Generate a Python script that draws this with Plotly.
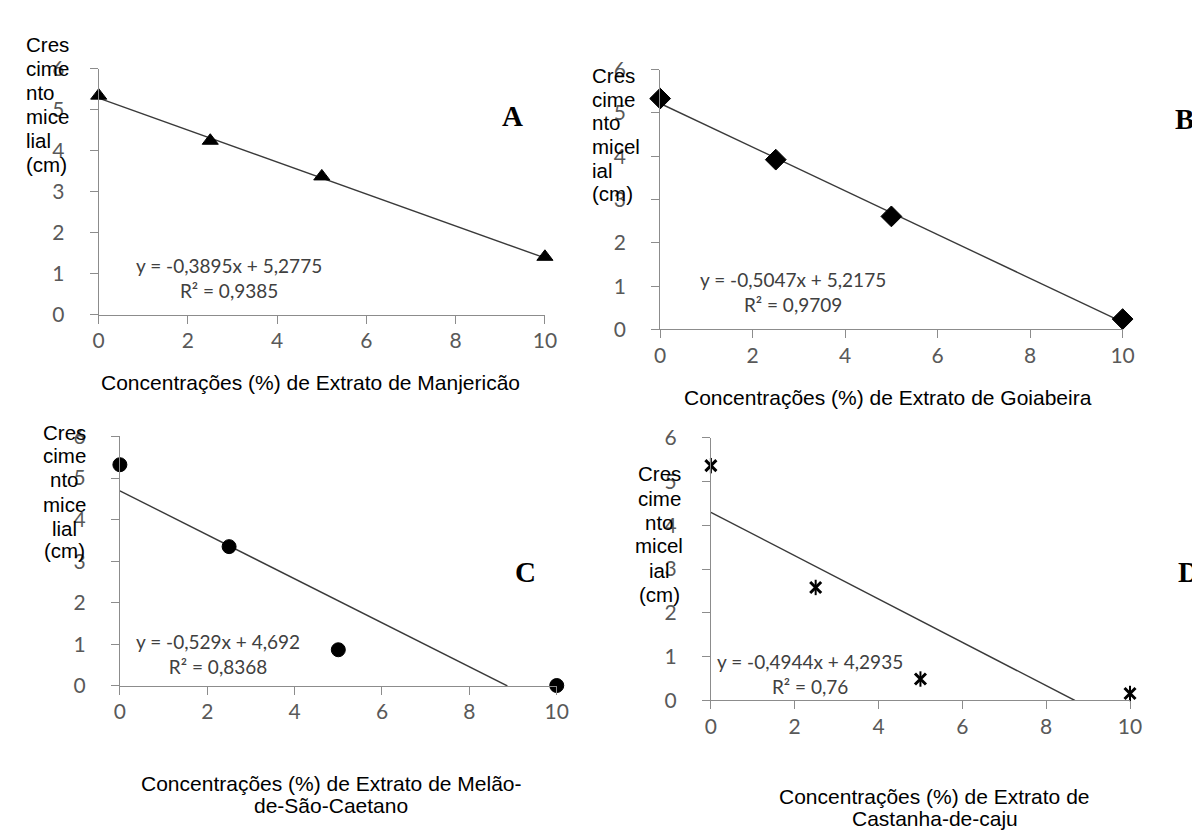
import plotly.graph_objects as go

# ---------------- data ----------------
conc = [0, 2.5, 5, 10]
manjericao = [5.34, 4.24, 3.37, 1.41]
goiabeira = [5.33, 3.92, 2.61, 0.24]
melao = [5.32, 3.35, 0.87, 0.01]
caju = [5.36, 2.58, 0.49, 0.16]

slopes = [-0.3895, -0.5047, -0.529, -0.4944]
intercepts = [5.2775, 5.2175, 4.692, 4.2935]
r2_labels = ["0,9385", "0,9709", "0,8368", "0,76"]
eq_labels = ["y = -0,3895x + 5,2775", "y = -0,5047x + 5,2175",
             "y = -0,529x + 4,692", "y = -0,4944x + 4,2935"]
x_titles = [["Concentrações (%) de Extrato de Manjericão"],
            ["Concentrações (%) de Extrato de Goiabeira"],
            ["Concentrações (%) de Extrato de Melão-", "de-São-Caetano"],
            ["Concentrações (%) de Extrato de", "Castanha-de-caju"]]
y_titles = [["Cres", "cime", "nto", "mice", "lial", "(cm)"],
            ["Cres", "cime", "nto", "micel", "ial", "(cm)"],
            ["Cres", "cime", "nto", "mice", "lial", "(cm)"],
            ["Cres", "cime", "nto", "micel", "ial", "(cm)"]]
letters = ["A", "B", "C", "D"]
x_ticks = [0, 2, 4, 6, 8, 10]
y_ticks = [0, 1, 2, 3, 4, 5, 6]
series = [manjericao, goiabeira, melao, caju]

# ---------------- layout (pixels) ----------------
W, H = 1200, 832
def fx(px): return px / W
def fy(py): return 1 - py / H

# (left, right, top, bottom) of each plot area in px
boxes = [(86, 539, 48, 301.7), (656, 1125.5, 49, 317),
         (107.5, 551, 427.3, 684.5), (707.5, 1133, 428.5, 699.5)]
symbols = ["triangle-up", "diamond", "circle", "x-thin-open"]
msizes = [14, 16, 14, 11]

AXC = "#8c8c8c"
TICKC = "#595959"
TICKFONT = dict(family="Lato", size=21, color=TICKC)

fig = go.Figure()
layout = {}
for i in range(4):
    sfx = "" if i == 0 else str(i + 1)
    xa, ya = "x" + sfx, "y" + sfx
    l, r, t, b = boxes[i]
    layout["xaxis" + sfx] = dict(
        domain=[fx(l), fx(r)], anchor=ya, range=[0, 10], tickvals=x_ticks,
        showline=True, linecolor=AXC, linewidth=1, ticks="outside", ticklen=8,
        tickcolor=AXC, showgrid=False, zeroline=False, tickfont=TICKFONT,
        ticklabelstandoff=-1)
    layout["yaxis" + sfx] = dict(
        domain=[fy(b), fy(t)], anchor=xa, range=[0, 6], tickvals=y_ticks,
        showline=True, linecolor=AXC, linewidth=1, ticks="outside", ticklen=8,
        tickcolor=AXC, showgrid=False, zeroline=False, tickfont=TICKFONT,
        ticklabelstandoff=21)

    # trend line from the fitted coefficients, clipped at y = 0
    m, c = slopes[i], intercepts[i]
    x_end = min(10, -c / m)
    fig.add_trace(go.Scatter(x=[0, x_end], y=[c, c + m * x_end], mode="lines",
                             line=dict(color="#3a3a3a", width=1.4),
                             xaxis=xa, yaxis=ya, showlegend=False,
                             cliponaxis=False))
    if symbols[i] == "x-thin-open":
        fig.add_trace(go.Scatter(x=conc, y=series[i], mode="markers",
                                 marker=dict(symbol="x-thin-open", size=msizes[i],
                                             color="black",
                                             line=dict(color="black", width=3)),
                                 xaxis=xa, yaxis=ya, showlegend=False, cliponaxis=False))
        fig.add_trace(go.Scatter(x=conc, y=series[i], mode="markers",
                                 marker=dict(symbol="line-ns-open", size=msizes[i],
                                             color="black",
                                             line=dict(color="black", width=2)),
                                 xaxis=xa, yaxis=ya, showlegend=False, cliponaxis=False))
    else:
        fig.add_trace(go.Scatter(x=conc, y=series[i], mode="markers",
                                 marker=dict(symbol=symbols[i], size=msizes[i],
                                             color="black",
                                             line=dict(color="black", width=1)),
                                 xaxis=xa, yaxis=ya, showlegend=False, cliponaxis=False))

# ---------------- annotations ----------------
ann = []
EQFONT = dict(family="Lato", size=19, color="#404040")
eq_pos = [(218, 264), (791, 278), (207, 652), (808, 672)]
for i in range(4):
    ann.append(dict(x=fx(eq_pos[i][0]), y=fy(eq_pos[i][1]), xref="paper", yref="paper",
                    text=eq_labels[i] + "<br>R² = " + r2_labels[i], showarrow=False,
                    align="center", xanchor="center", yanchor="middle", font=EQFONT))

XTFONT = dict(family="Liberation Sans, Arial", size=21, color="black")
xt_x = [301, 887, 322, 935]
xt_y = [[372], [387], [785, 808], [798, 821]]
for i in range(4):
    for line, yp in zip(x_titles[i], xt_y[i]):
        ann.append(dict(x=fx(xt_x[i]), y=fy(yp), xref="paper", yref="paper",
                        text=line, showarrow=False, xanchor="center",
                        yanchor="middle", font=XTFONT))

YTFONT = dict(family="Liberation Sans, Arial", size=20.5, color="black")
yt_x = [(10, "left"), (585, "left"), (51, "center"), (655, "center")]
yt_y = [[23, 48, 73, 97, 122, 147], [55, 80, 104, 128, 153, 177],
        [423, 447, 472, 497, 522, 545], [465, 491, 516, 540, 565, 590]]
for i in range(4):
    xp, anc = yt_x[i]
    for line, yp in zip(y_titles[i], yt_y[i]):
        ann.append(dict(x=fx(xp), y=fy(yp), xref="paper", yref="paper",
                        text=line, showarrow=False, xanchor=anc,
                        yanchor="middle", font=YTFONT))

LFONT = dict(family="Liberation Serif, Times New Roman", size=29, color="black")
let_pos = [(506, 97), (1188, 100), (519, 567), (1192, 567)]
for i in range(4):
    ann.append(dict(x=fx(let_pos[i][0]), y=fy(let_pos[i][1]), xref="paper", yref="paper",
                    text="<b>" + letters[i] + "</b>", showarrow=False,
                    xanchor="center", yanchor="middle", font=LFONT))

layout.update(dict(width=W, height=H, margin=dict(l=0, r=0, t=0, b=0),
                   paper_bgcolor="white", plot_bgcolor="white", showlegend=False,
                   annotations=ann))
fig.update_layout(**layout)
fig.write_html("out.html")
